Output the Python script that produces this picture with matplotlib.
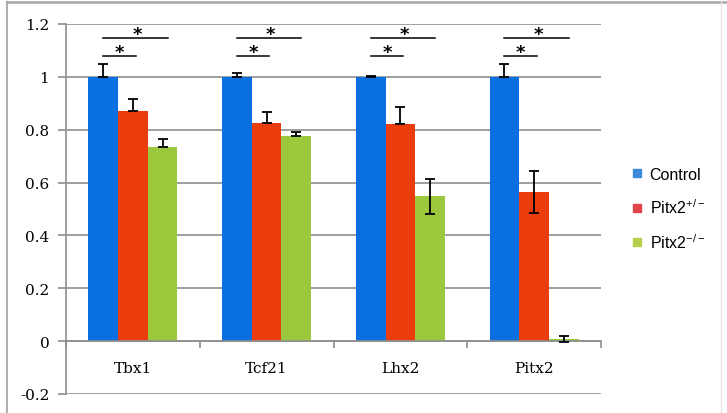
import matplotlib
matplotlib.use("Agg")
import matplotlib.pyplot as plt
import numpy as np
from matplotlib.lines import Line2D

plt.rcParams["font.family"] = ["DejaVu Serif"]

categories = ["Tbx1", "Tcf21", "Lhx2", "Pitx2"]
series_names = ["Control", r"Pitx2$^{\mathregular{+/-}}$", r"Pitx2$^{\mathregular{-/-}}$"]
control = [1.0, 1.0, 1.0, 1.0]
het = [0.87, 0.826, 0.822, 0.565]
ko = [0.735, 0.777, 0.548, 0.008]
control_err_up = [0.049, 0.015, 0.004, 0.047]
control_err_lo = [0.0, 0.0, 0.0, 0.0]
het_err_up = [0.047, 0.042, 0.065, 0.08]
het_err_lo = [0.0, 0.0, 0.0, 0.08]
ko_err_up = [0.028, 0.013, 0.066, 0.013]
ko_err_lo = [0.0, 0.0, 0.066, 0.01]
yticks = [-0.2, 0, 0.2, 0.4, 0.6, 0.8, 1, 1.2]
ytick_labels = ["-0.2", "0", "0.2", "0.4", "0.6", "0.8", "1", "1.2"]
sig_upper_y = 1.147
sig_lower_y = 1.079

colors = ["#0A6FE0", "#EA3C0C", "#9CC83E"]
legend_colors = ["#3F8AD8", "#E2444C", "#B4D14E"]

fig = plt.figure(figsize=(7.27, 4.14), dpi=100)
# outer frame (top and left visible, right faint)
fig.add_artist(Line2D([7/727, 7/727], [0, 1 - 3/414], transform=fig.transFigure,
                      color="#b0b0b0", lw=1.5))
fig.add_artist(Line2D([7/727, 1], [1 - 3/414, 1 - 3/414], transform=fig.transFigure,
                      color="#a8a8a8", lw=1.8))
fig.add_artist(Line2D([721/727, 721/727], [0, 1 - 3/414], transform=fig.transFigure,
                      color="#e6e6e6", lw=1.0))

ax = fig.add_axes([66/727, 19/414, 535/727, 370/414])

x = np.arange(len(categories))
bw = 1 / 4.5
data = [control, het, ko]
errs = [(control_err_lo, control_err_up), (het_err_lo, het_err_up), (ko_err_lo, ko_err_up)]
for i, (vals, (elo, eup)) in enumerate(zip(data, errs)):
    pos = x + (i - 1) * bw
    ax.bar(pos, vals, width=bw, color=colors[i], zorder=2)
    ax.errorbar(pos, vals, yerr=[elo, eup], fmt="none", ecolor="black",
                elinewidth=1.3, capsize=3.5, capthick=1.3, zorder=3)

# significance markers
for xi in x:
    ax.plot([xi - bw, xi + 0.26], [sig_upper_y, sig_upper_y], color="black", lw=1.1, zorder=3)
    ax.plot([xi - bw, xi + 0.02], [sig_lower_y, sig_lower_y], color="black", lw=1.1, zorder=3)
    ax.text(xi + 0.03, sig_upper_y - 0.002, "*", ha="center", va="baseline",
            fontsize=13, fontweight="bold", family="DejaVu Sans", zorder=4)
    ax.text(xi - 0.10, sig_lower_y - 0.002, "*", ha="center", va="baseline",
            fontsize=13, fontweight="bold", family="DejaVu Sans", zorder=4)

ax.set_xlim(-0.5, len(categories) - 0.5)
ax.set_ylim(-0.2, 1.2)
ax.set_yticks(yticks)
ax.set_yticklabels(ytick_labels)
ax.yaxis.grid(True, color="#8f8f8f", linewidth=1.2, zorder=0)
ax.set_axisbelow(True)
ax.tick_params(axis="y", length=6, width=1.2, color="#8f8f8f", pad=6, labelsize=11)

ax.set_xticks(x)
ax.set_xticklabels(categories)
ax.set_xticks(np.arange(len(categories) + 1) - 0.5, minor=True)
ax.tick_params(axis="x", which="major", length=0, pad=14, labelsize=11)
ax.tick_params(axis="x", which="minor", length=5, width=1.2, color="#8f8f8f", direction="out")

for s in ["top", "right"]:
    ax.spines[s].set_visible(False)
ax.spines["bottom"].set_position(("data", 0))
ax.spines["bottom"].set_color("#8f8f8f")
ax.spines["bottom"].set_linewidth(1.2)
ax.spines["left"].set_color("#8f8f8f")
ax.spines["left"].set_linewidth(1.2)

handles = [Line2D([], [], marker="s", linestyle="none", markersize=6,
                  markerfacecolor=c, markeredgecolor=c) for c in legend_colors]
fig.legend(handles, series_names, loc="upper left", bbox_to_anchor=(624/727, 1 - 160/414),
           frameon=False, prop={"family": "Liberation Sans", "size": 11.5},
           handlelength=0.6, handletextpad=0.5, labelspacing=0.98, borderpad=0)

fig.savefig("out.png", dpi=100)
